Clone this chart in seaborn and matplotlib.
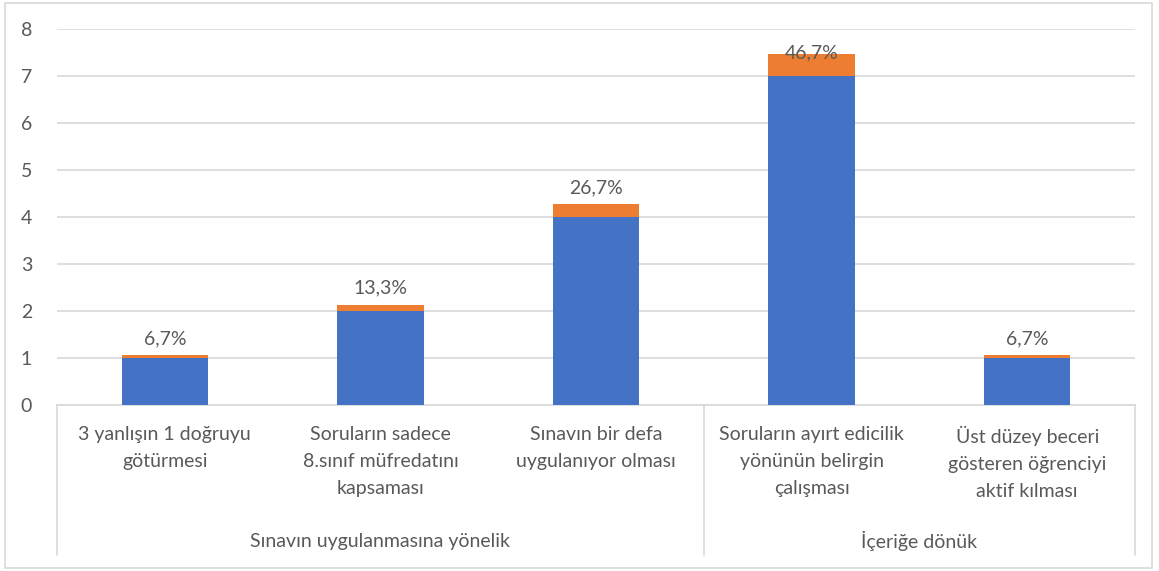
import matplotlib
matplotlib.use("Agg")
import matplotlib.pyplot as plt
import seaborn as sns
import pandas as pd
from matplotlib.patches import Rectangle

categories = [
    "3 yanlışın 1 doğruyu\ngötürmesi",
    "Soruların sadece\n8.sınıf müfredatını\nkapsaması",
    "Sınavın bir defa\nuygulanıyor olması",
    "Soruların ayırt edicilik\nyönünün belirgin\nçalışması",
    "Üst düzey beceri\ngösteren öğrenciyi\naktif kılması",
]
groups = ["Sınavın uygulanmasına yönelik", "İçeriğe dönük"]
group_sizes = [3, 2]
counts = [1, 2, 4, 7, 1]
percents = [0.067, 0.133, 0.267, 0.467, 0.067]
pct_labels = ["6,7%", "13,3%", "26,7%", "46,7%", "6,7%"]

sns.set_style("white")
plt.rcParams["font.family"] = ["Lato", "DejaVu Sans"]

TEXT = "#595959"
BLUE = "#4472C4"
ORANGE = "#ED7D31"
GRID = "#D9D9D9"
FS = 14

df = pd.DataFrame({
    "cat": categories,
    "count": counts,
    "pct": percents,
})
df["total"] = df["count"] + df["pct"]

fig = plt.figure(figsize=(11.59, 5.71), dpi=100)
ax = fig.add_axes([57 / 1159, 166 / 571, (1135 - 57) / 1159, 376 / 571])

sns.barplot(data=df, x="cat", y="total", color=ORANGE, width=0.4,
            saturation=1, ax=ax, zorder=3, linewidth=0, edgecolor="none")
sns.barplot(data=df, x="cat", y="count", color=BLUE, width=0.4,
            saturation=1, ax=ax, zorder=4, linewidth=0, edgecolor="none")

ax.set_ylim(0, 8)
ax.set_xlim(-0.5, len(categories) - 0.5)
ax.set_yticks(range(0, 9))
ax.yaxis.grid(True, color=GRID, linewidth=1.2, zorder=0)
ax.set_axisbelow(True)
for s in ["top", "right", "left"]:
    ax.spines[s].set_visible(False)
ax.spines["bottom"].set_color(GRID)
ax.spines["bottom"].set_linewidth(1.2)
ax.tick_params(axis="y", length=0, pad=18, labelsize=FS, labelcolor=TEXT)
ax.tick_params(axis="x", length=0, labelbottom=False)
ax.set_xlabel("")
ax.set_ylabel("")

# data labels
for i, (t, lab) in enumerate(zip(df["total"], pct_labels)):
    y = min(t + 0.35, 7.5)
    ax.text(i, y, lab, ha="center", va="center", fontsize=FS, color=TEXT, zorder=5)

# multi-level category axis
trans = ax.get_xaxis_transform()
for i, c in enumerate(categories):
    ax.text(i, -0.055, c, transform=trans, ha="center", va="top",
            fontsize=FS, color=TEXT, linespacing=1.72)

start = 0
bounds = [-0.5]
for g, n in zip(groups, group_sizes):
    mid = start + (n - 1) / 2
    ax.text(mid, -0.362, g, transform=trans, ha="center", va="center",
            fontsize=FS, color=TEXT)
    start += n
    bounds.append(start - 0.5)
for b in bounds:
    ax.plot([b, b], [0, -0.399], transform=trans, color=GRID,
            linewidth=1.2, clip_on=False)

# outer chart border
fig.patches.append(Rectangle((5 / 1159, 3 / 571), 1147 / 1159, 565 / 571,
                             transform=fig.transFigure, fill=False,
                             edgecolor=GRID, linewidth=1.2))

fig.savefig("out.png", dpi=100)
